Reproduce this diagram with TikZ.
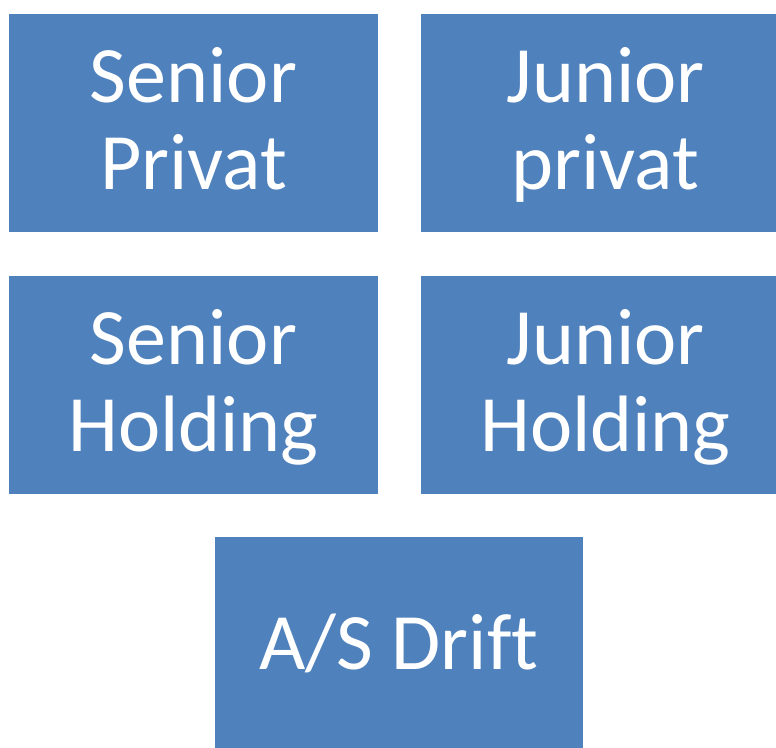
\documentclass[tikz,border=0pt]{standalone}
\usepackage{fontspec}
\setmainfont{Carlito}[Ligatures=NoCommon]
\definecolor{boxblue}{HTML}{4F81BD}
\tikzset{
  orgbox/.style={fill=boxblue, draw=none, inner sep=0pt, text=white,
    minimum width=369pt, minimum height=218pt, align=center, text depth=0pt,
    font=\fontsize{80pt}{87pt}\selectfont},
  twoline/.style={orgbox, text height=133pt},
  oneline/.style={orgbox, text height=46pt, minimum width=368pt}
}
\begin{document}
\begin{tikzpicture}[x=1pt,y=-1pt]
\useasboundingbox (0,0) rectangle (776,747);
\clip (0,0) rectangle (776,747);
\node[twoline] (sp) at (193.5,123) {Senior\\Privat};
\node[twoline] (jp) at (605.5,123) {Junior\\privat};
\node[twoline] (sh) at (193.5,385) {Senior\\Holding};
\node[twoline] (jh) at (605.5,385) {Junior\\Holding};
\node[oneline] (as) at (399,646) {A/S Drift};
\end{tikzpicture}
\end{document}
